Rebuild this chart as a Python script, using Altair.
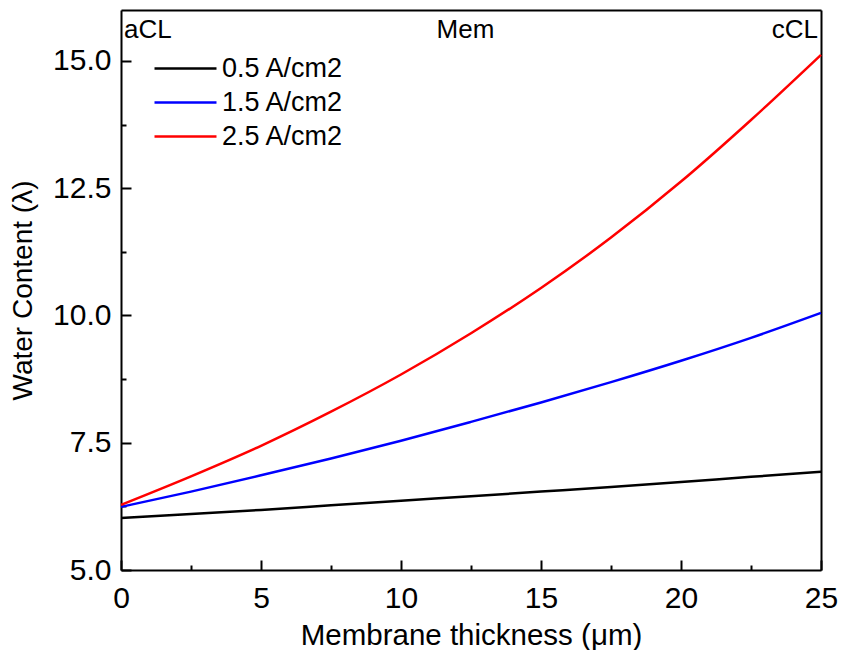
import altair as alt
import pandas as pd

# ---- data ----
x_vals = [0, 2.5, 5, 7.5, 10, 12.5, 15, 17.5, 20, 22.5, 25]
black_05 = [6.02, 6.10, 6.18, 6.27, 6.36, 6.45, 6.54, 6.63, 6.73, 6.83, 6.93]
blue_15 = [6.24, 6.54, 6.86, 7.19, 7.54, 7.91, 8.29, 8.69, 9.11, 9.56, 10.05]
red_25 = [6.28, 6.84, 7.44, 8.11, 8.84, 9.65, 10.54, 11.53, 12.63, 13.84, 15.12]

series_names = ["0.5 A/cm2", "1.5 A/cm2", "2.5 A/cm2"]
series_colors = ["#000000", "#0000ff", "#ff0000"]

x_major = [0, 5, 10, 15, 20, 25]
x_minor = [2.5, 7.5, 12.5, 17.5, 22.5]
y_major = [5.0, 7.5, 10.0, 12.5, 15.0]
y_minor = [6.25, 8.75, 11.25, 13.75]

ann_text = ["aCL", "Mem", "cCL"]
ann_x = [0, 12.3, 25]
ann_y = [15.45, 15.45, 15.45]

FONT = "Liberation Sans"

rows = []
for name, vals in zip(series_names, [black_05, blue_15, red_25]):
    for xv, yv in zip(x_vals, vals):
        rows.append({"x": xv, "y": yv, "series": name})
df = pd.DataFrame(rows)
ann = pd.DataFrame({"label": ann_text, "x": ann_x, "y": ann_y})

xs = alt.Scale(domain=[0, 25], nice=False, zero=False)
ys = alt.Scale(domain=[5, 16], nice=False, zero=False)

MAJ = 10
MIN = 5

lines = alt.Chart(df).mark_line(strokeWidth=2.5, interpolate="monotone").encode(
    x=alt.X("x:Q", scale=xs, axis=alt.Axis(
        orient="bottom", title="Membrane thickness (μm)", values=x_major, format="d",
        ticks=True, tickSize=MAJ, offset=-MAJ, tickWidth=2, tickColor="black",
        domain=False, grid=False, labelFlush=False,
        labelFontSize=30, labelPadding=13, titleFontSize=29.5, titlePadding=8,
        titleFontWeight="normal")),
    y=alt.Y("y:Q", scale=ys, axis=alt.Axis(
        orient="left", title="Water Content (λ)", values=y_major, format=".1f",
        ticks=True, tickSize=MAJ, offset=-MAJ, tickWidth=2, tickColor="black",
        domain=False, grid=False, labelFlush=False,
        labelFontSize=30, labelPadding=10, titleFontSize=28, titlePadding=15,
        titleFontWeight="normal")),
    color=alt.Color("series:N", scale=alt.Scale(domain=series_names, range=series_colors),
                    legend=alt.Legend(title=None, orient="none", legendX=51, legendY=45,
                                      symbolType="M-3,0H3", symbolSize=427, symbolStrokeWidth=2.5,
                                      labelFontSize=27, labelFont=FONT, labelOffset=23,
                                      rowPadding=6, padding=0, labelColor="black")),
    detail="series:N",
)

minor = alt.Chart(df).mark_point(opacity=0).encode(
    x=alt.X("x:Q", scale=xs, axis=alt.Axis(
        orient="bottom", values=x_minor, labels=False, title=None, domain=False, grid=False,
        ticks=True, tickSize=MIN, offset=-MIN, tickWidth=2, tickColor="black")),
    y=alt.Y("y:Q", scale=ys, axis=alt.Axis(
        orient="left", values=y_minor, labels=False, title=None, domain=False, grid=False,
        ticks=True, tickSize=MIN, offset=-MIN, tickWidth=2, tickColor="black")),
)


def frame_layer(xorient, yorient):
    return alt.Chart(df).mark_point(opacity=0).encode(
        x=alt.X("x:Q", scale=xs, axis=alt.Axis(
            orient=xorient, labels=False, ticks=False, title=None, grid=False,
            domain=True, domainColor="black", domainWidth=2)),
        y=alt.Y("y:Q", scale=ys, axis=alt.Axis(
            orient=yorient, labels=False, ticks=False, title=None, grid=False,
            domain=True, domainColor="black", domainWidth=2)),
    )


frame_bl = frame_layer("bottom", "left")
frame_tr = frame_layer("top", "right")


def ann_layer(label, align, dx):
    return alt.Chart(ann).transform_filter(alt.datum.label == label).mark_text(
        align=align, baseline="alphabetic", fontSize=26, font=FONT, color="black", dx=dx
    ).encode(
        x=alt.X("x:Q", scale=xs, axis=None),
        y=alt.Y("y:Q", scale=ys, axis=None),
        text="label:N",
    )


texts = ann_layer("aCL", "left", 3) + ann_layer("Mem", "center", 0) + ann_layer("cCL", "right", -3)

chart = alt.layer(lines, minor, frame_bl, frame_tr, texts).resolve_axis(
    x="independent", y="independent"
).properties(
    width=700, height=560,
    autosize=alt.AutoSizeParams(type="none"),
    padding={"left": 113, "top": 2, "right": 17, "bottom": 80},
).configure_view(
    stroke="black", strokeWidth=2, strokeOpacity=1
).configure_axis(
    labelFont=FONT, titleFont=FONT, labelColor="black", titleColor="black",
    titleFontWeight="normal"
).configure(background="white")

chart.save("out.html", embed_options={"renderer": "svg", "actions": False})
